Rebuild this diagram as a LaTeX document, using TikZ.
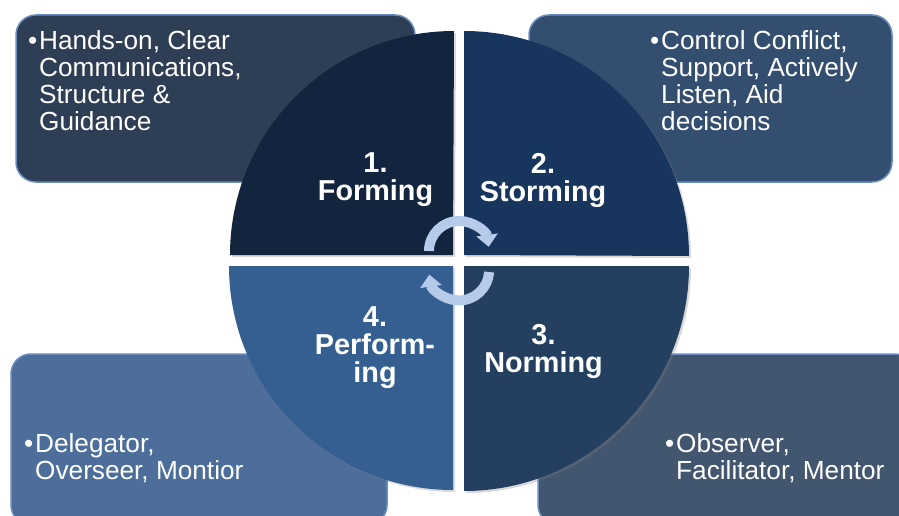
\documentclass[tikz,border=0pt]{standalone}
\usepackage{fontspec}
\setmainfont{Liberation Sans}
\usetikzlibrary{arrows.meta, shadows}

\definecolor{boxone}{HTML}{2E3E55}
\definecolor{boxtwo}{HTML}{344E70}
\definecolor{boxthree}{HTML}{42566F}
\definecolor{boxfour}{HTML}{4D6E9B}
\definecolor{boxline}{HTML}{6A8CC0}
\definecolor{stageone}{HTML}{13243F}
\definecolor{stagetwo}{HTML}{18365D}
\definecolor{stagethree}{HTML}{243F60}
\definecolor{stagefour}{HTML}{365F91}
\definecolor{arrowblue}{HTML}{B6CAEA}

\newcommand{\itemlist}[1]{\makebox[11pt][l]{•}\parbox[t]{330pt}{#1}}

\begin{document}
\begin{tikzpicture}[x=1pt, y=1pt]

\tikzset{infobox/.style = {draw=boxline, line width=1.5pt, rounded corners=20pt, inner sep=0pt}}
\tikzset{itemtext/.style = {text=white, inner sep=0pt, anchor=base west, font=\fontsize{26.2}{27}\selectfont}}
\tikzset{stage/.style = {text=white, inner sep=0pt, anchor=north, align=center, font=\bfseries\fontsize{28.8}{28}\selectfont}}
\tikzset{quarter/.style = {drop shadow={opacity=0.3, shadow xshift=2pt, shadow yshift=-2pt}}}
\tikzset{turn/.style = {draw=arrowblue, line width=10pt, -{Triangle[width=21pt,length=12pt]}}}

\useasboundingbox (0,0) rectangle (899,-516);

%boxes
\node[infobox, fill=boxone, minimum width=399pt, minimum height=167pt] (b1) at (215.5,-98.5) {};
\node[infobox, fill=boxtwo, minimum width=363pt, minimum height=167pt] (b2) at (710.5,-98.5) {};
\node[infobox, fill=boxthree, minimum width=377pt, minimum height=171pt] (b3) at (726.5,-439.5) {};
\node[infobox, fill=boxfour, minimum width=376pt, minimum height=171pt] (b4) at (199,-439.5) {};

%quadrants
\fill[quarter, fill=stageone] (453,-255) -- (230,-255) arc[start angle=180, end angle=90, radius=224] -- cycle;
\fill[quarter, fill=stagetwo] (464,-255) -- (464,-31) arc[start angle=90, end angle=0, radius=225] -- cycle;
\fill[quarter, fill=stagethree] (464,-266) -- (689,-266) arc[start angle=0, end angle=-90, radius=225] -- cycle;
\fill[quarter, fill=stagefour] (453,-266) -- (453,-490) arc[start angle=270, end angle=180, radius=224] -- cycle;

%arrows
\draw[turn] (429,-251) arc[start angle=180, end angle=8, radius=30];
\draw[turn] (489,-272) arc[start angle=-3, end angle=-172, radius=30];

%stages
\node[stage] (s1) at (375.5,-152) {1.\\Forming};
\node[stage] (s2) at (543,-153) {2.\\Storming};
\node[stage] (s3) at (543.5,-324) {3.\\Norming};
\node[stage] (s4) at (375,-306) {4.\\Perform-\\ing};

%texts
\node[itemtext] (t1) at (28,-50) {\itemlist{Hands-on, Clear\\Communications,\\Structure \&\\Guidance}};
\node[itemtext] (t2) at (650,-50) {\itemlist{Control Conflict,\\Support, Actively\\Listen, Aid\\decisions}};
\node[itemtext] (t3) at (665,-452) {\itemlist{Observer,\\Facilitator, Mentor}};
\node[itemtext] (t4) at (24,-452) {\itemlist{Delegator,\\Overseer, Montior}};

\end{tikzpicture}
\end{document}
